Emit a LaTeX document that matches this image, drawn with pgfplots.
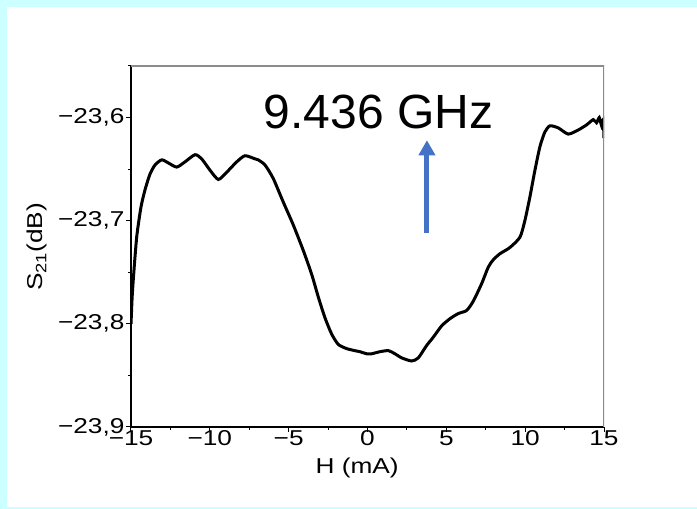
\documentclass[border=0pt]{standalone}
\usepackage{fontspec}
\setmainfont{Liberation Sans}
\newfontfamily\axfont[FakeStretch=1.22]{Liberation Sans}
\usepackage{pgfplots}
\pgfplotsset{compat=1.18}
\usetikzlibrary{arrows.meta}
\definecolor{framecyan}{HTML}{CCFFFF}
\definecolor{arrowblue}{HTML}{4472C4}
\definecolor{boxgray}{HTML}{8C8C8C}
\begin{document}
\begin{tikzpicture}
\useasboundingbox (0pt,0pt) rectangle (697pt,509pt);
\fill[white] (0pt,0pt) rectangle (697pt,509pt);
\fill[framecyan] (0pt,0pt) rectangle (7pt,509pt);
\fill[framecyan] (0pt,502pt) rectangle (697pt,509pt);
\fill[framecyan] (0pt,0pt) rectangle (697pt,2pt);
\begin{axis}[
  at={(131pt,82pt)}, anchor=south west,
  scale only axis, width=473pt, height=361pt,
  xmin=-15, xmax=15, ymin=-23.9, ymax=-23.55,
  axis lines*=left,
  axis line style={black, line width=1.5pt},
  tick align=outside,
  major tick length=5pt, minor tick length=3pt,
  every tick/.style={black, line width=1pt},
  xtick={-15,-10,-5,0,5,10,15},
  xticklabels={−15,−10,−5,0,5,10,15},
  minor x tick num=1,
  ytick={-23.9,-23.8,-23.7,-23.6},
  yticklabels={{−23,9},{−23,8},{−23,7},{−23,6}},
  minor ytick={-23.85,-23.75,-23.65,-23.55},
  ticklabel style={font=\axfont\fontsize{21.5}{25}\selectfont, black},
  x tick label style={yshift=5pt},
  y tick label style={xshift=2pt},
  xlabel={H (mA)},
  ylabel={S\textsubscript{21}(dB)},
  x label style={at={(axis description cs:0.478,0)}, anchor=base, yshift=-47pt, font=\axfont\fontsize{21.5}{25}\selectfont},
  y label style={at={(axis description cs:0,0.4986)}, anchor=base, yshift=88pt, font=\axfont\fontsize{21.5}{25}\selectfont},
]
\addplot[black, line width=3pt, smooth, tension=0.4] coordinates {
(-15.00,-23.800) (-14.93,-23.775) (-14.85,-23.756) (-14.64,-23.716)
(-14.37,-23.687) (-14.11,-23.670) (-13.80,-23.655) (-13.48,-23.646)
(-13.05,-23.641) (-12.63,-23.644) (-12.10,-23.648) (-11.58,-23.643)
(-10.94,-23.636) (-10.52,-23.640) (-9.99,-23.651) (-9.46,-23.660)
(-8.93,-23.653) (-8.30,-23.643) (-7.77,-23.637) (-7.14,-23.640)
(-6.93,-23.641) (-6.50,-23.646) (-5.98,-23.659) (-5.34,-23.682)
(-4.71,-23.704) (-4.07,-23.729) (-3.54,-23.752) (-3.12,-23.774)
(-2.70,-23.794) (-2.27,-23.810) (-1.85,-23.820) (-1.32,-23.824)
(-0.80,-23.826) (-0.48,-23.827) (-0.05,-23.829) (0.26,-23.829)
(0.79,-23.827) (1.32,-23.826) (1.74,-23.829) (2.17,-23.833)
(2.80,-23.836) (3.22,-23.833) (3.75,-23.821) (4.17,-23.813)
(4.70,-23.802) (5.23,-23.795) (5.76,-23.790) (6.29,-23.787)
(6.71,-23.778) (7.24,-23.761) (7.66,-23.745) (7.97,-23.738)
(8.40,-23.732) (9.03,-23.726) (9.67,-23.716) (9.98,-23.700)
(10.30,-23.677) (10.62,-23.651) (10.94,-23.628) (11.25,-23.614)
(11.57,-23.608) (12.10,-23.610) (12.73,-23.616) (13.37,-23.612)
(13.90,-23.607) (14.32,-23.602) (14.53,-23.605) (14.70,-23.600)
(14.85,-23.608) (14.95,-23.602) (15.00,-23.620)
};
\draw[boxgray, line width=1.5pt] (rel axis cs:0,1) -- (rel axis cs:1,1) -- (rel axis cs:1,0);
\draw[arrowblue, line width=5pt, -{Triangle[length=15pt,width=16pt]}] (axis cs:3.77,-23.712) -- (axis cs:3.77,-23.622);
\node[anchor=base, font=\fontsize{48}{56}\selectfont, inner sep=0pt] at (axis cs:0.69,-23.611) {9.436 GHz};
\end{axis}
\end{tikzpicture}
\end{document}
